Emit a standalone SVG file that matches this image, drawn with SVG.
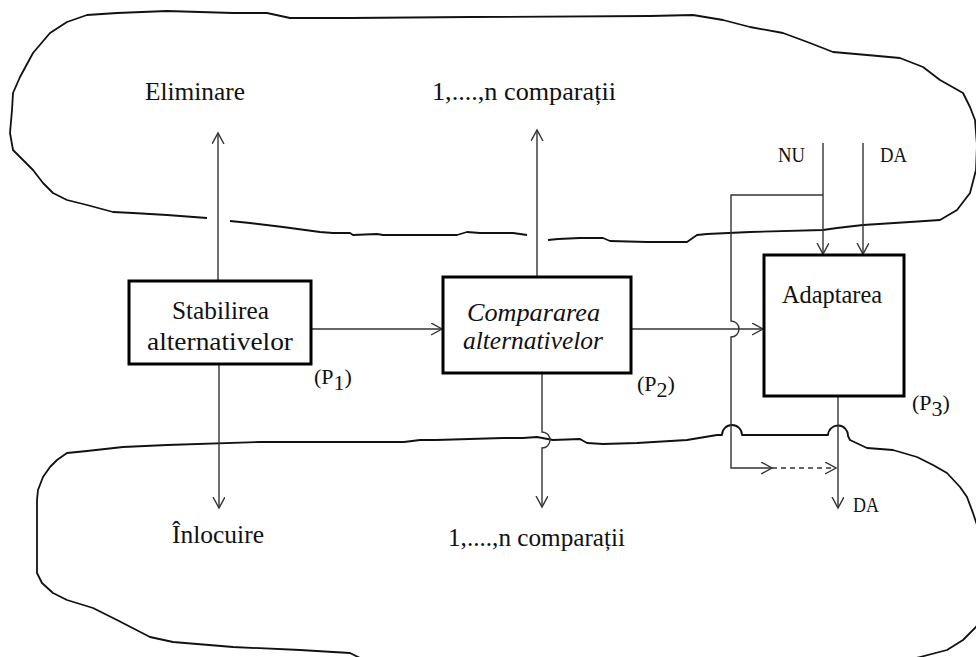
<svg xmlns="http://www.w3.org/2000/svg" width="976" height="657" viewBox="0 0 976 657">
  <style>
    .blob { fill: none; stroke: #111; stroke-width: 1.8; stroke-linejoin: round; }
    .wire { fill: none; stroke: #333; stroke-width: 1.4; }
    .dash { stroke-dasharray: 5 4; }
    .box { fill: #fff; stroke: #000; stroke-width: 3; }
    .t { font-family: "Liberation Serif", "Times New Roman", serif; font-size: 26px; fill: #111; }
    .it { font-style: italic; }
    .sm { font-size: 21px; }
    .p { font-size: 22px; }
  </style>
  <defs>
    <marker id="arrow" markerUnits="userSpaceOnUse" markerWidth="14" markerHeight="14" refX="11" refY="6" orient="auto">
      <path d="M0,0 L11,6 L0,12" fill="none" stroke="#333" stroke-width="1.4"/>
    </marker>
  </defs>

  <rect width="976" height="657" fill="#fff"/>

  <!-- upper region outline, with openings where the vertical arrows pass -->
  <g id="upper-region">
    <path class="blob" d="M207,218 L167,215 L133,213 L113,212 L87,205 L67,200 L53,193 L43,183 L33,170 L23,160 L13,150 L10,133 L12,110 L13,93 L20,77 L33,53 L50,33 L67,22 L87,15 L117,13 L167,11 L233,13 L267,13 L290,18 L350,18 L470,17 L650,16 L693,15 L723,20 L750,27 L783,33 L810,43 L833,52 L867,55 L900,58 L923,67 L940,80 L963,93 L970,107 L975,120 L977,145 L976,170 L970,193 L957,210 L940,220 L910,222 L863,225 L837,228 L823,230 L750,232 L707,234 L697,235 L687,242 L647,242 L610,241 L603,238 L580,238 L558,239 L548,240"/>
    <path class="blob" d="M527,235 L513,233 L480,233 L467,232 L457,235 L383,235 L377,234 L353,235 L350,233 L333,233 L320,232 L283,227 L250,223 L230,221"/>
  </g>

  <!-- lower region outline, hopping over the two verticals on the right -->
  <g id="lower-region">
    <path class="blob" d="M364,660 L350,653 L300,650 L233,647 L173,642 L150,637 L117,620 L93,608 L67,600 L53,593 L42,583 L37,573 L37,500 L38,490 L43,477 L50,467 L57,460 L67,453 L87,451 L123,447 L167,445 L260,442 L350,442 L404,442 L420,440 L436,440 L503,438 L523,438 L537,437 L553,440 L580,439 L587,443 L603,444 L637,443 L687,440 L717,435 L722,435 A10,10 0 0 1 742,435 L828,435 A10,10 0 0 1 848,436 L850,440 L867,448 L893,450 L917,457 L933,465 L947,473 L960,487 L967,497 L973,513 L977,525 L980,560 L980,620 L976,627 L963,640 L947,650 L920,657 L900,662"/>
  </g>

  <!-- connectors -->
  <g id="connectors">
    <!-- Stabilirea: up to Eliminare, down to Inlocuire, right to Compararea -->
    <line class="wire" x1="218" y1="281" x2="218" y2="133" marker-end="url(#arrow)"/>
    <line class="wire" x1="219" y1="364" x2="219" y2="508" marker-end="url(#arrow)"/>
    <line class="wire" x1="311" y1="329" x2="442" y2="329" marker-end="url(#arrow)"/>
    <!-- Compararea: up, down (hopping the outline), right to Adaptarea -->
    <line class="wire" x1="537" y1="277" x2="537" y2="130" marker-end="url(#arrow)"/>
    <path class="wire" d="M542,373 V432 A8,8 0 0 1 542,448 V507" marker-end="url(#arrow)"/>
    <line class="wire" x1="631" y1="329" x2="763" y2="329" marker-end="url(#arrow)"/>
    <!-- NU / DA inputs to Adaptarea -->
    <line class="wire" x1="823" y1="143" x2="823" y2="254" marker-end="url(#arrow)"/>
    <line class="wire" x1="863" y1="143" x2="863" y2="254" marker-end="url(#arrow)"/>
    <!-- NU bypass loop down to the DA output -->
    <path class="wire" d="M823,195 H731 V321 A8,8 0 0 1 731,337 V468 H772" marker-end="url(#arrow)"/>
    <line class="wire dash" x1="772" y1="468" x2="836" y2="468" marker-end="url(#arrow)"/>
    <!-- Adaptarea output -->
    <line class="wire" x1="838" y1="396" x2="838" y2="508" marker-end="url(#arrow)"/>
  </g>

  <g id="stabilirea">
    <rect class="box" x="129" y="281" width="182" height="83"/>
    <text class="t" x="172" y="319" textLength="97" lengthAdjust="spacingAndGlyphs">Stabilirea</text>
    <text class="t" x="147" y="350" textLength="146" lengthAdjust="spacingAndGlyphs">alternativelor</text>
    <text class="t p" x="314" y="384">(P<tspan dy="6">1</tspan><tspan dy="-6">)</tspan></text>
  </g>

  <g id="compararea">
    <rect class="box" x="443" y="277" width="188" height="96"/>
    <text class="t it" x="467" y="321" textLength="133" lengthAdjust="spacingAndGlyphs">Compararea</text>
    <text class="t it" x="463" y="349" textLength="140" lengthAdjust="spacingAndGlyphs">alternativelor</text>
    <text class="t p" x="637" y="391">(P<tspan dy="6">2</tspan><tspan dy="-6">)</tspan></text>
  </g>

  <g id="adaptarea">
    <rect class="box" x="764" y="255" width="140" height="141"/>
    <text class="t" x="782" y="303" textLength="100" lengthAdjust="spacingAndGlyphs">Adaptarea</text>
    <text class="t p" x="912" y="410">(P<tspan dy="6">3</tspan><tspan dy="-6">)</tspan></text>
  </g>

  <g id="labels">
    <text class="t" x="145" y="100" textLength="100" lengthAdjust="spacingAndGlyphs">Eliminare</text>
    <text class="t" x="432" y="100" textLength="184" lengthAdjust="spacingAndGlyphs">1,....,n comparații</text>
    <text class="t" x="172" y="543" textLength="92" lengthAdjust="spacingAndGlyphs">Înlocuire</text>
    <text class="t" x="448" y="546" textLength="177" lengthAdjust="spacingAndGlyphs">1,....,n comparații</text>
    <text class="t sm" x="778" y="162" textLength="27" lengthAdjust="spacingAndGlyphs">NU</text>
    <text class="t sm" x="880" y="162" textLength="27" lengthAdjust="spacingAndGlyphs">DA</text>
    <text class="t sm" x="853" y="512" textLength="26" lengthAdjust="spacingAndGlyphs">DA</text>
  </g>
</svg>
